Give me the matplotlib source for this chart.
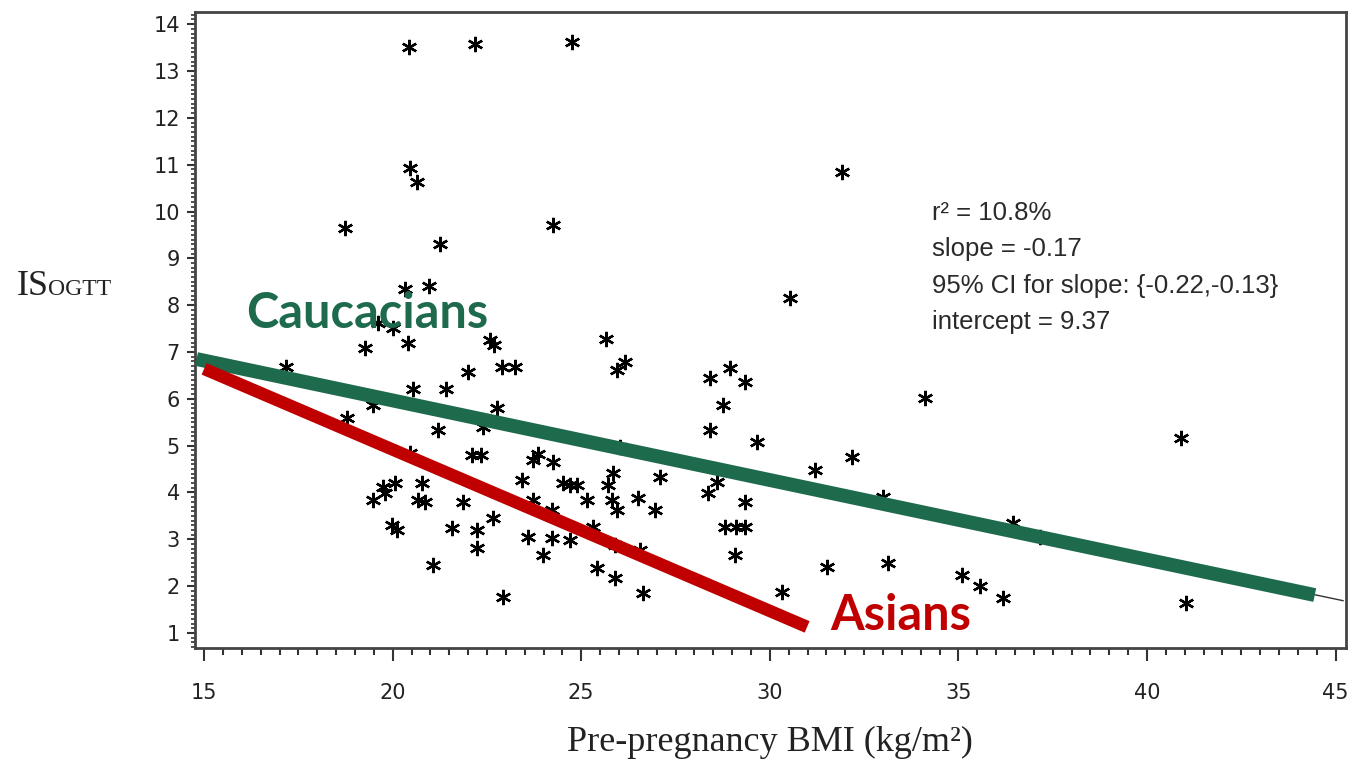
"""IS_OGTT vs pre-pregnancy BMI scatter with ethnic regression lines."""

import matplotlib
matplotlib.use("Agg")
import matplotlib.pyplot as plt
from matplotlib.ticker import MultipleLocator

# scatter data (BMI, IS_OGTT)
bmi = [20.43, 22.18, 24.76, 20.46, 20.65, 31.91, 18.74, 24.25, 21.26, 20.33,
       20.96, 30.54, 19.61, 20.01, 19.27, 20.41, 22.58, 22.70, 25.66, 26.16,
       25.95, 17.17, 22.00, 22.90, 23.25, 20.54, 21.42, 28.95, 28.42, 29.34,
       34.11, 19.48, 22.77, 28.76, 18.79, 21.20, 22.40, 28.42, 29.66, 26.03,
       40.90, 20.45, 22.10, 22.35, 23.85, 24.25, 23.72, 32.18, 31.20, 25.84,
       27.09, 23.43, 24.52, 24.70, 24.90, 19.75, 20.06, 19.80, 19.48, 20.78,
       20.67, 20.85, 21.87, 23.72, 25.15, 25.70, 25.82, 26.50, 28.60, 28.36,
       29.34, 33.00, 25.95, 26.96, 24.23, 19.98, 20.12, 21.57, 22.24, 22.66,
       23.59, 24.23, 24.70, 25.31, 28.80, 29.10, 29.35, 36.45, 37.16, 22.24,
       23.99, 25.90, 26.56, 29.08, 21.07, 25.42, 25.90, 31.52, 33.13, 35.10,
       35.57, 22.93, 26.64, 30.32, 36.18, 41.03]
is_ogtt = [13.51, 13.57, 13.61, 10.93, 10.63, 10.84, 9.65, 9.71, 9.30, 8.34,
           8.41, 8.15, 7.62, 7.51, 7.08, 7.19, 7.25, 7.15, 7.28, 6.78,
           6.61, 6.68, 6.57, 6.68, 6.68, 6.21, 6.21, 6.65, 6.44, 6.36,
           6.02, 5.87, 5.80, 5.87, 5.59, 5.33, 5.40, 5.33, 5.08, 4.97,
           5.16, 4.85, 4.80, 4.80, 4.82, 4.65, 4.69, 4.76, 4.48, 4.42,
           4.33, 4.27, 4.20, 4.16, 4.16, 4.12, 4.20, 3.99, 3.84, 4.20,
           3.84, 3.80, 3.80, 3.84, 3.84, 4.15, 3.84, 3.88, 4.22, 3.99,
           3.80, 3.90, 3.63, 3.63, 3.63, 3.31, 3.20, 3.24, 3.20, 3.45,
           3.05, 3.03, 2.99, 3.26, 3.26, 3.26, 3.26, 3.35, 3.05, 2.81,
           2.66, 2.88, 2.77, 2.66, 2.45, 2.39, 2.17, 2.41, 2.49, 2.24,
           2.00, 1.77, 1.85, 1.88, 1.75, 1.64]

# overall fit line (thin) and the two highlighted group lines
fit_x = [14.8, 45.2]
fit_y = [6.85, 1.69]
cauc_x = [14.8, 44.45]
cauc_y = [6.85, 1.81]
asian_x = [15.0, 30.99]
asian_y = [6.64, 1.13]

stats_lines = ["r² = 10.8%", "slope = -0.17",
               "95% CI for slope: {-0.22,-0.13}", "intercept = 9.37"]

GREEN = "#1e6a4d"
RED = "#c00000"
INK = "#333333"

fig = plt.figure(figsize=(13.62, 7.84), dpi=100)
ax = fig.add_axes([0.1432, 0.1735, 0.8451, 0.8112])

ax.plot(bmi, is_ogtt, ls="none", marker=(6, 2, 0), ms=11, mew=1.7,
        color="black", zorder=2)
ax.plot(fit_x, fit_y, color=INK, lw=1.0, zorder=3)
ax.plot(cauc_x, cauc_y, color=GREEN, lw=10, solid_capstyle="butt", zorder=4)
ax.plot(asian_x, asian_y, color=RED, lw=9, solid_capstyle="butt", zorder=4)

ax.text(16.12, 7.51, "Caucacians", color=GREEN, fontsize=35,
        fontweight="bold", family="Lato", va="baseline", zorder=5)
ax.text(31.6, 1.06, "Asians", color=RED, fontsize=35,
        fontweight="bold", family="Lato", va="baseline", zorder=5)

for i, line in enumerate(stats_lines):
    ax.text(34.3, 9.97 - i * 0.78, line, fontsize=18.5, color="#2a2a2a",
            family="Liberation Sans", va="center")

ax.set_xlim(14.76, 45.28)
ax.set_ylim(0.68, 14.26)
ax.xaxis.set_major_locator(MultipleLocator(5))
ax.xaxis.set_minor_locator(MultipleLocator(0.5))
ax.yaxis.set_major_locator(MultipleLocator(1))
ax.yaxis.set_minor_locator(MultipleLocator(0.1))

for s in ax.spines.values():
    s.set_color("#444444")
    s.set_linewidth(2.0)

ax.tick_params(axis="x", which="major", direction="out", length=9, width=1.5,
               color=INK, pad=16, labelsize=15, labelcolor="#222222")
ax.tick_params(axis="x", which="minor", direction="out", length=5, width=1.5,
               color=INK)
ax.tick_params(axis="y", which="major", direction="out", length=6, width=1.5,
               color=INK, pad=5, labelsize=15, labelcolor="#222222")
ax.tick_params(axis="y", which="minor", direction="out", length=3, width=1.2,
               color=INK)

# axis titles in a Times-like serif
fig.text(17 / 1362, 1 - 295 / 784, "IS", family="Liberation Serif",
         fontsize=26, color="#222222", va="baseline")
fig.text(48 / 1362, 1 - 295 / 784, "OGTT", family="Liberation Serif",
         fontsize=17, color="#222222", va="baseline")
fig.text(0.5655, 1 - 742 / 784, "Pre-pregnancy BMI (kg/m²)",
         family="Liberation Serif", fontsize=26, color="#222222",
         ha="center", va="center")

fig.savefig("out.png", dpi=100)
